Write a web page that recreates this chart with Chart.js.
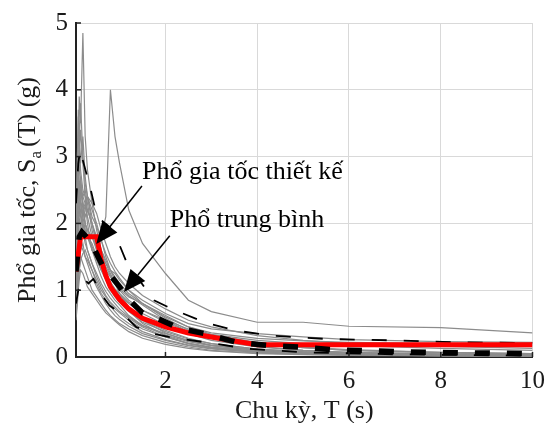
<!DOCTYPE html>
<html>
<head>
<meta charset="utf-8">
<script src="https://cdn.jsdelivr.net/npm/chart.js@4.4.1/dist/chart.umd.min.js"></script>
<style>
  html, body { margin: 0; padding: 0; background: #fff; }
  #wrap { width: 554px; height: 423px; }
</style>
</head>
<body>
<div id="wrap"><canvas id="sa-chart" width="554" height="423"></canvas></div>
<script>
// periods (s) shared by all ground motion records
var periods = [0.05, 0.08, 0.1, 0.12, 0.15, 0.2, 0.25, 0.3, 0.4, 0.5, 0.6, 0.7, 0.8, 0.9, 1.0, 1.2, 1.5, 2.0, 2.5, 3.0, 4.0, 5.0, 6.0, 8.0, 10.0];

var rec01 = [1.3, 2.4, 3.1, 3.9, 3.5, 4.85, 3.3, 2.8, 2.3, 1.9, 1.6, 1.4, 1.25, 1.1, 0.95, 0.75, 0.55, 0.36, 0.24, 0.17, 0.10, 0.07, 0.05, 0.03, 0.02];
var rec02 = [0.9, 1.3, 1.6, 1.8, 2.0, 2.2, 2.3, 2.0, 1.6, 1.5, 1.8, 2.1, 4.0, 3.3, 2.9, 2.2, 1.7, 1.25, 0.85, 0.68, 0.52, 0.52, 0.46, 0.44, 0.36];
var rec03 = [1.8, 2.9, 3.7, 3.2, 3.8, 3.0, 2.6, 2.4, 2.0, 1.7, 1.4, 1.2, 1.05, 0.95, 0.85, 0.7, 0.5, 0.32, 0.2, 0.14, 0.08, 0.05, 0.04, 0.025, 0.015];
var rec04 = [1.5, 2.0, 2.5, 3.0, 2.6, 2.4, 2.3, 2.4, 2.2, 2.0, 1.75, 1.5, 1.3, 1.15, 1.0, 0.85, 0.7, 0.55, 0.42, 0.33, 0.22, 0.15, 0.11, 0.07, 0.05];
var rec05 = [0.6, 0.9, 1.1, 1.3, 1.5, 1.4, 1.3, 1.2, 1.0, 0.9, 0.8, 0.7, 0.62, 0.56, 0.5, 0.42, 0.32, 0.22, 0.15, 0.1, 0.06, 0.04, 0.03, 0.02, 0.01];
var rec06 = [1.1, 1.6, 2.1, 2.6, 2.3, 2.0, 1.9, 1.8, 1.7, 1.5, 1.3, 1.2, 1.1, 1.0, 0.9, 0.72, 0.55, 0.4, 0.28, 0.2, 0.12, 0.08, 0.06, 0.04, 0.03];
var rec07 = [0.8, 1.2, 1.5, 1.7, 1.9, 2.2, 2.0, 1.8, 1.6, 1.4, 1.2, 1.05, 0.95, 0.85, 0.78, 0.62, 0.47, 0.33, 0.23, 0.17, 0.1, 0.07, 0.05, 0.03, 0.02];
var rec08 = [1.6, 2.4, 2.9, 2.5, 2.7, 2.3, 2.0, 1.9, 1.6, 1.45, 1.3, 1.15, 1.0, 0.9, 0.82, 0.68, 0.52, 0.38, 0.27, 0.2, 0.12, 0.08, 0.06, 0.04, 0.025];
var rec09 = [1.0, 1.5, 1.9, 2.3, 2.5, 2.3, 2.1, 2.2, 2.0, 1.7, 1.45, 1.3, 1.2, 1.1, 1.02, 0.9, 0.8, 0.62, 0.45, 0.34, 0.25, 0.2, 0.17, 0.13, 0.1];
var rec10 = [0.7, 1.0, 1.2, 1.4, 1.6, 1.7, 1.5, 1.4, 1.2, 1.05, 0.92, 0.8, 0.7, 0.62, 0.56, 0.46, 0.35, 0.25, 0.17, 0.12, 0.07, 0.05, 0.035, 0.02, 0.015];
var rec11 = [1.4, 2.0, 2.5, 3.0, 3.4, 2.9, 2.4, 2.1, 1.8, 1.6, 1.5, 1.4, 1.3, 1.25, 1.15, 1.0, 0.85, 0.65, 0.5, 0.42, 0.35, 0.3, 0.26, 0.23, 0.22];
var rec12 = [1.2, 1.7, 2.0, 2.3, 2.1, 1.9, 1.7, 1.6, 1.4, 1.25, 1.1, 0.98, 0.88, 0.8, 0.72, 0.6, 0.47, 0.35, 0.25, 0.18, 0.11, 0.07, 0.05, 0.035, 0.025];
var rec13 = [0.55, 0.8, 1.0, 1.15, 1.3, 1.25, 1.15, 1.05, 0.95, 0.85, 0.75, 0.66, 0.6, 0.54, 0.48, 0.38, 0.28, 0.19, 0.13, 0.09, 0.05, 0.035, 0.025, 0.015, 0.01];
var rec14 = [1.7, 2.3, 2.7, 3.2, 2.8, 2.5, 2.4, 2.2, 2.0, 1.8, 1.6, 1.45, 1.3, 1.2, 1.1, 0.95, 0.8, 0.58, 0.4, 0.3, 0.2, 0.14, 0.1, 0.07, 0.05];
var rec15 = [0.9, 1.4, 1.8, 2.0, 2.2, 2.4, 2.5, 2.3, 1.9, 1.6, 1.35, 1.2, 1.08, 1.0, 0.92, 0.8, 0.65, 0.48, 0.35, 0.25, 0.15, 0.1, 0.07, 0.045, 0.03];
var rec16 = [1.3, 1.8, 2.1, 2.4, 2.3, 2.1, 1.9, 1.8, 1.65, 1.5, 1.4, 1.25, 1.12, 1.02, 0.95, 0.82, 0.7, 0.52, 0.38, 0.3, 0.2, 0.14, 0.1, 0.06, 0.04];
var rec17 = [1.0, 1.3, 1.5, 1.6, 1.7, 1.6, 1.5, 1.45, 1.3, 1.15, 1.0, 0.9, 0.8, 0.72, 0.66, 0.55, 0.42, 0.3, 0.21, 0.15, 0.09, 0.06, 0.045, 0.03, 0.02];
var rec18 = [1.9, 3.0, 3.6, 3.3, 2.9, 3.3, 2.7, 2.4, 2.1, 1.95, 1.75, 1.55, 1.4, 1.28, 1.18, 1.0, 0.8, 0.6, 0.45, 0.36, 0.28, 0.24, 0.22, 0.2, 0.18];
var rec19 = [0.75, 1.1, 1.3, 1.5, 1.8, 2.0, 1.8, 1.6, 1.4, 1.2, 1.05, 0.92, 0.82, 0.75, 0.68, 0.58, 0.45, 0.3, 0.2, 0.14, 0.08, 0.05, 0.035, 0.02, 0.015];
var rec20 = [1.1, 1.8, 2.4, 2.1, 2.6, 2.2, 2.0, 1.9, 1.8, 1.65, 1.5, 1.35, 1.22, 1.12, 1.05, 0.92, 0.78, 0.55, 0.38, 0.28, 0.16, 0.1, 0.07, 0.045, 0.03];
var rec21 = [0.65, 0.95, 1.15, 1.3, 1.45, 1.55, 1.6, 1.5, 1.3, 1.1, 0.95, 0.85, 0.76, 0.68, 0.6, 0.5, 0.38, 0.26, 0.18, 0.13, 0.07, 0.045, 0.03, 0.02, 0.012];
var rec22 = [1.5, 2.1, 2.6, 2.3, 2.5, 2.3, 2.2, 2.4, 2.3, 2.15, 1.9, 1.7, 1.5, 1.35, 1.25, 1.1, 0.92, 0.72, 0.55, 0.45, 0.32, 0.25, 0.2, 0.16, 0.13];
var records = [rec01, rec02, rec03, rec04, rec05, rec06, rec07, rec08, rec09, rec10, rec11,
               rec12, rec13, rec14, rec15, rec16, rec17, rec18, rec19, rec20, rec21, rec22];

// design spectrum (red)
var designT  = [0.05, 0.15, 0.5, 0.6, 0.7, 0.8, 1.0, 1.2, 1.5, 2.0, 2.5, 3.0, 3.5, 4.0, 10.0];
var designSa = [1.28, 1.8, 1.8, 1.45, 1.22, 1.05, 0.86, 0.72, 0.58, 0.45, 0.36, 0.3, 0.24, 0.185, 0.185];

// mean spectrum (thick dashed)
var meanT  = [0.05, 0.12, 0.18, 0.3, 0.4, 0.46, 0.64, 0.8, 1.0, 1.2, 1.5, 1.75, 2.3, 2.85, 3.55, 4.3, 4.9, 5.6, 7.3, 10.0];
var meanSa = [1.28, 1.8, 1.87, 1.78, 1.72, 1.6, 1.35, 1.22, 1.05, 0.86, 0.66, 0.6, 0.43, 0.35, 0.22, 0.17, 0.15, 0.11, 0.075, 0.05];

// upper / lower bounds (thin dashed)
var upperT  = [0.05, 0.1, 0.14, 0.2, 0.36, 0.46, 0.6, 0.78, 0.96, 1.14, 1.39, 1.75, 2.14, 2.85, 3.5, 4.28, 5.5, 6.9, 8.3, 10.0];
var upperSa = [2.3, 2.9, 3.1, 2.94, 2.54, 2.24, 2.05, 1.95, 1.74, 1.44, 1.19, 0.85, 0.72, 0.52, 0.4, 0.32, 0.27, 0.25, 0.22, 0.21];
var lowerT  = [0.05, 0.1, 0.2, 0.32, 0.43, 0.64, 0.78, 1.14, 1.36, 1.71, 2.07, 3.07, 3.78, 5.0, 7.0, 10.0];
var lowerSa = [0.8, 1.0, 1.19, 1.1, 1.17, 0.9, 0.77, 0.6, 0.45, 0.35, 0.3, 0.2, 0.125, 0.07, 0.04, 0.02];

var xTicks = [2, 4, 6, 8, 10];

// notes with arrows, in data units
var noteText = ["Phổ gia tốc thiết kế", "Phổ trung bình"];
var noteX = [1.487, 2.094];
var noteY = [2.668, 1.95];
var arrowFromX = [1.487, 2.094];
var arrowFromY = [2.56, 1.815];
var arrowToX = [0.492, 1.096];
var arrowToY = [1.692, 0.972];

var serif = '"Liberation Serif", "Times New Roman", serif';
var inkColor = '#1a1a1a';

function pairs(xs, ys) {
    return xs.map(function(x, i) { return {x: x, y: ys[i]}; });
}

function drawArrow(ctx, x1, y1, x2, y2) {
    var ang = Math.atan2(y2 - y1, x2 - x1);
    var headLen = 22, headHalf = 9.5;
    var bx = x2 - headLen * Math.cos(ang), by = y2 - headLen * Math.sin(ang);
    ctx.beginPath();
    ctx.moveTo(x1, y1);
    ctx.lineTo(bx, by);
    ctx.stroke();
    ctx.beginPath();
    ctx.moveTo(x2, y2);
    ctx.lineTo(bx + headHalf * Math.sin(ang), by - headHalf * Math.cos(ang));
    ctx.lineTo(bx - headHalf * Math.sin(ang), by + headHalf * Math.cos(ang));
    ctx.closePath();
    ctx.fill();
}

var decorPlugin = {
    id: 'decor',
    afterDraw: function(chart) {
        var ctx = chart.ctx, xs = chart.scales.x, ys = chart.scales.y, area = chart.chartArea;
        ctx.save();
        // inward tick marks
        ctx.strokeStyle = '#222';
        ctx.lineWidth = 1.5;
        xTicks.forEach(function(v) {
            var px = xs.getPixelForValue(v);
            ctx.beginPath(); ctx.moveTo(px, area.bottom); ctx.lineTo(px, area.bottom - 5); ctx.stroke();
        });
        [1, 2, 3, 4, 5].forEach(function(v) {
            var py = ys.getPixelForValue(v);
            ctx.beginPath(); ctx.moveTo(area.left, py); ctx.lineTo(area.left + 5, py); ctx.stroke();
        });

        // arrows + notes
        ctx.strokeStyle = '#000';
        ctx.fillStyle = '#000';
        ctx.lineWidth = 1.5;
        ctx.font = '26px ' + serif;
        ctx.textAlign = 'left';
        ctx.textBaseline = 'alphabetic';
        for (var i = 0; i < noteText.length; i++) {
            drawArrow(ctx, xs.getPixelForValue(arrowFromX[i]), ys.getPixelForValue(arrowFromY[i]),
                      xs.getPixelForValue(arrowToX[i]), ys.getPixelForValue(arrowToY[i]));
            ctx.fillText(noteText[i], xs.getPixelForValue(noteX[i]), ys.getPixelForValue(noteY[i]));
        }

        // x axis title
        ctx.fillStyle = inkColor;
        ctx.textAlign = 'center';
        ctx.fillText('Chu kỳ, T (s)', (area.left + area.right) / 2, area.bottom + 61);

        // y axis title with subscript
        ctx.save();
        ctx.translate(35, (area.top + area.bottom) / 2);
        ctx.rotate(-Math.PI / 2);
        ctx.textAlign = 'left';
        var mainPart = 'Phổ gia tốc, S', subPart = 'a', restPart = '(T) (g)';
        ctx.font = '26px ' + serif;
        var w1 = ctx.measureText(mainPart).width;
        var w3 = ctx.measureText(restPart).width;
        ctx.font = '17px ' + serif;
        var w2 = ctx.measureText(subPart).width;
        var gap = 4;
        var x0 = -(w1 + w2 + gap + w3) / 2;
        ctx.font = '26px ' + serif;
        ctx.fillText(mainPart, x0, 0);
        ctx.font = '17px ' + serif;
        ctx.fillText(subPart, x0 + w1, 6);
        ctx.font = '26px ' + serif;
        ctx.fillText(restPart, x0 + w1 + w2 + gap, 0);
        ctx.restore();

        ctx.restore();
    }
};

var datasets = [];
datasets.push({
    data: pairs(meanT, meanSa), borderColor: '#000', borderWidth: 5.5,
    borderDash: [15, 17], pointRadius: 0, fill: false, order: 0
});
datasets.push({
    data: pairs(designT, designSa), borderColor: '#ff0000', borderWidth: 5,
    pointRadius: 0, fill: false, order: 1
});
datasets.push({
    data: pairs(upperT, upperSa), borderColor: '#000', borderWidth: 1.8,
    borderDash: [15, 17], pointRadius: 0, fill: false, order: 2
});
datasets.push({
    data: pairs(lowerT, lowerSa), borderColor: '#000', borderWidth: 1.8,
    borderDash: [15, 17], pointRadius: 0, fill: false, order: 2
});
records.forEach(function(rec) {
    datasets.push({
        data: pairs(periods, rec), borderColor: '#8c8c8c', borderWidth: 1.2,
        pointRadius: 0, fill: false, order: 5
    });
});

var saChart = new Chart(document.getElementById('sa-chart').getContext('2d'), {
    type: 'line',
    data: { datasets: datasets },
    options: {
        responsive: false,
        animation: false,
        layout: { padding: { top: 21, right: 12, left: 0, bottom: 0 } },
        plugins: { legend: { display: false }, tooltip: { enabled: false } },
        elements: { line: { tension: 0 } },
        scales: {
            x: {
                type: 'linear',
                min: 0.05,
                max: 10,
                afterBuildTicks: function(scale) {
                    scale.ticks = xTicks.map(function(v) { return {value: v}; });
                },
                afterFit: function(scale) { scale.height = 66; },
                grid: { color: '#d9d9d9', lineWidth: 1, drawTicks: false },
                border: { color: '#222', width: 2 },
                ticks: { font: { family: serif, size: 25 }, color: inkColor, padding: 9, maxRotation: 0 }
            },
            y: {
                min: 0,
                max: 5,
                afterFit: function(scale) { scale.width = 76; },
                grid: { color: '#d9d9d9', lineWidth: 1, drawTicks: false },
                border: { color: '#222', width: 2 },
                ticks: { stepSize: 1, font: { family: serif, size: 25 }, color: inkColor, padding: 8 }
            }
        }
    },
    plugins: [decorPlugin]
});
</script>
</body>
</html>
